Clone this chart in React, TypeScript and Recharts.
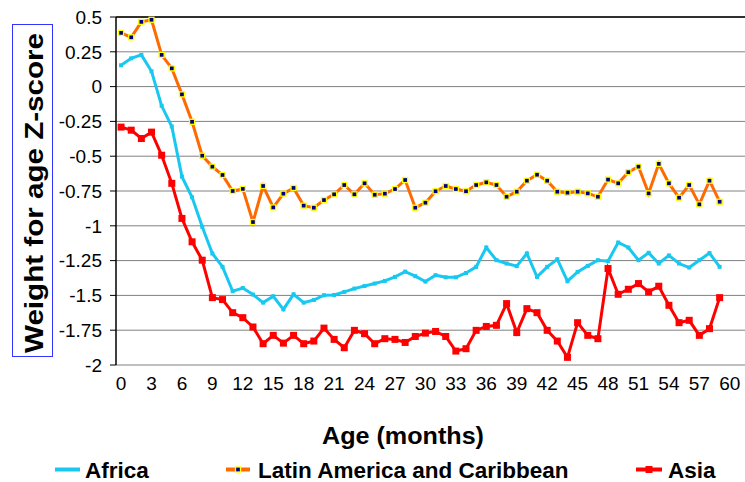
import React from "react";
import {
  LineChart,
  Line,
  XAxis,
  YAxis,
  CartesianGrid,
  ReferenceLine,
} from "recharts";

const MONTHS = [
  0, 1, 2, 3, 4, 5, 6, 7, 8, 9, 10, 11, 12, 13, 14, 15, 16, 17, 18, 19, 20, 21, 22, 23, 24, 25, 26, 27, 28, 29,
  30, 31, 32, 33, 34, 35, 36, 37, 38, 39, 40, 41, 42, 43, 44, 45, 46, 47, 48, 49, 50, 51, 52, 53, 54, 55, 56, 57, 58, 59,
];

const AFRICA = [
  0.153, 0.203, 0.228, 0.11, -0.138, -0.287, -0.647, -0.795, -1.007, -1.199, -1.295, -1.47, -1.447, -1.494, -1.552,
  -1.506, -1.6, -1.492, -1.552, -1.533, -1.499, -1.497, -1.475, -1.451, -1.432, -1.415, -1.396, -1.367, -1.329, -1.362,
  -1.401, -1.355, -1.37, -1.37, -1.339, -1.295, -1.156, -1.247, -1.271, -1.29, -1.199, -1.367, -1.295, -1.24, -1.398,
  -1.331, -1.288, -1.247, -1.254, -1.12, -1.156, -1.247, -1.194, -1.271, -1.213, -1.271, -1.3, -1.247, -1.196, -1.295,
];

const LATIN = [
  0.386, 0.354, 0.465, 0.48, 0.228, 0.131, -0.056, -0.253, -0.496, -0.575, -0.635, -0.75, -0.735, -0.973, -0.714,
  -0.868, -0.769, -0.728, -0.855, -0.87, -0.815, -0.774, -0.707, -0.774, -0.695, -0.777, -0.769, -0.736, -0.671, -0.87,
  -0.834, -0.752, -0.714, -0.736, -0.752, -0.707, -0.688, -0.707, -0.791, -0.755, -0.676, -0.633, -0.676, -0.755, -0.762,
  -0.755, -0.767, -0.791, -0.668, -0.695, -0.615, -0.575, -0.767, -0.555, -0.695, -0.798, -0.707, -0.846, -0.676, -0.827,
];

const ASIA = [
  -0.291, -0.313, -0.373, -0.327, -0.493, -0.695, -0.947, -1.115, -1.247, -1.516, -1.53, -1.624, -1.66, -1.727, -1.847,
  -1.787, -1.843, -1.787, -1.847, -1.828, -1.735, -1.816, -1.876, -1.751, -1.775, -1.847, -1.811, -1.816, -1.838, -1.795,
  -1.771, -1.759, -1.795, -1.9, -1.883, -1.751, -1.723, -1.715, -1.559, -1.767, -1.595, -1.624, -1.751, -1.828, -1.945,
  -1.696, -1.787, -1.811, -1.307, -1.492, -1.456, -1.415, -1.475, -1.434, -1.571, -1.696, -1.679, -1.787, -1.739, -1.516,
];

const X_TICKS = [0, 3, 6, 9, 12, 15, 18, 21, 24, 27, 30, 33, 36, 39, 42, 45, 48, 51, 54, 57, 60];
const X_MARKS = [-0.5, 2.5, 5.5, 8.5, 11.5, 14.5, 17.5, 20.5, 23.5, 26.5, 29.5, 32.5, 35.5, 38.5, 41.5, 44.5, 47.5, 50.5, 53.5, 56.5, 59.5];
const Y_TICKS = [0.5, 0.25, 0, -0.25, -0.5, -0.75, -1, -1.25, -1.5, -1.75, -2];

const data = MONTHS.map((m, i) => ({
  month: m,
  africa: AFRICA[i],
  latin: LATIN[i],
  asia: ASIA[i],
}));

const FONT = "Arial, 'Liberation Sans', sans-serif";
const CYAN = "#19C8F0";
const ORANGE = "#FF6A00";
const RED = "#FF0000";

const africaDot = (p: any) => (
  <rect key={`af-${p.index}`} x={p.cx - 2} y={p.cy - 2} width={4} height={4} fill={CYAN} />
);
const latinDot = (p: any) => (
  <rect
    key={`la-${p.index}`}
    x={p.cx - 2.5}
    y={p.cy - 2.5}
    width={5}
    height={5}
    fill="#000080"
    stroke="#FFFF00"
    strokeWidth={1.3}
  />
);
const asiaDot = (p: any) => (
  <rect key={`as-${p.index}`} x={p.cx - 3.5} y={p.cy - 3.5} width={7} height={7} fill={RED} />
);

export default function App() {
  return (
    <div style={{ position: "absolute", left: 0, top: 0, width: 745, height: 482, background: "#fff" }}>
      <LineChart width={745} height={482} data={data} margin={{ top: 17, right: 0, left: 0, bottom: 87 }}>
        <CartesianGrid vertical={false} stroke="#808080" />
        <XAxis
          xAxisId="marks"
          dataKey="month"
          type="number"
          domain={[-0.5, 61.5]}
          ticks={X_MARKS}
          height={0}
          tickFormatter={() => ""}
          tickSize={6}
          axisLine={{ stroke: "#000", strokeWidth: 1.5 }}
          tickLine={{ stroke: "#000" }}
        />
        <XAxis
          dataKey="month"
          type="number"
          domain={[-0.5, 61.5]}
          ticks={X_TICKS}
          height={30}
          axisLine={false}
          tickLine={{ stroke: "none" }}
          tickSize={6}
          tickMargin={6}
          interval={0}
          tick={{ fill: "#000", fontSize: 19, fontFamily: FONT }}
        />
        <YAxis
          type="number"
          domain={[-2, 0.5]}
          ticks={Y_TICKS}
          width={116}
          interval={0}
          axisLine={{ stroke: "#000", strokeWidth: 1.5 }}
          tickLine={{ stroke: "#000" }}
          tickSize={6}
          tickMargin={8}
          tick={{ fill: "#000", fontSize: 19, fontFamily: FONT }}
        />
        <ReferenceLine y={0.5} stroke="#000" strokeWidth={1.5} />
        <Line
          dataKey="africa"
          stroke={CYAN}
          strokeWidth={3}
          dot={africaDot}
          isAnimationActive={false}
        />
        <Line
          dataKey="latin"
          stroke={ORANGE}
          strokeWidth={3}
          dot={latinDot}
          isAnimationActive={false}
        />
        <Line
          dataKey="asia"
          stroke={RED}
          strokeWidth={3}
          dot={asiaDot}
          isAnimationActive={false}
        />
      </LineChart>

      <svg
        width={745}
        height={482}
        style={{ position: "absolute", left: 0, top: 0, pointerEvents: "none" }}
        fontFamily={FONT}
      >
        <rect x={12.5} y={24.5} width={40} height={332} fill="none" stroke="#3333FF" strokeWidth={1} />
        <text
          transform="translate(43,193) rotate(-90)"
          textAnchor="middle"
          fontSize={26}
          fontWeight="bold"
          textLength={320}
          lengthAdjust="spacingAndGlyphs"
        >
          Weight for age Z-score
        </text>
        <text x={403} y={444} textAnchor="middle" fontSize={24} fontWeight="bold" textLength={162} lengthAdjust="spacingAndGlyphs">
          Age (months)
        </text>

        <line x1={55} x2={80} y1={469.5} y2={469.5} stroke={CYAN} strokeWidth={4} />
        <text x={85} y={478} fontSize={22.5} fontWeight="bold">Africa</text>

        <line x1={226} x2={250} y1={469.5} y2={469.5} stroke={ORANGE} strokeWidth={4} />
        <rect x={235.5} y={467} width={5} height={5} fill="#000080" stroke="#FFFF00" strokeWidth={1.3} />
        <text x={258} y={478} fontSize={22.5} fontWeight="bold">Latin America and Caribbean</text>

        <line x1={636} x2={662} y1={469.5} y2={469.5} stroke={RED} strokeWidth={4} />
        <rect x={645.5} y={466} width={7} height={7} fill={RED} />
        <text x={668} y={478} fontSize={22.5} fontWeight="bold">Asia</text>
      </svg>
    </div>
  );
}
